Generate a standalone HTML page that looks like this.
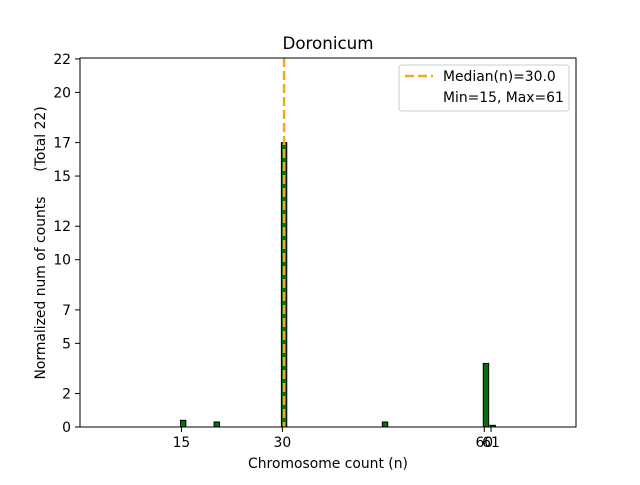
<!DOCTYPE html>
<html><head><meta charset="utf-8"><style>
body{margin:0;background:#fff;}
svg{font-family:"DejaVu Sans","Liberation Sans",sans-serif;}
</style></head><body>
<svg id="chart" width="640" height="480" viewBox="0 0 640 480">
<text x="328" y="49" font-size="16.7" text-anchor="middle">Doronicum</text>
<g id="bars"></g>
<g id="xticks"></g>
<g id="yticks"></g>
<line id="median" stroke="#f5a623" stroke-width="2.5" stroke-dasharray="9,4"/>
<rect x="80" y="58" width="496" height="369" fill="none" stroke="#000" stroke-width="1"/>
<text x="328" y="468" font-size="13.9" text-anchor="middle">Chromosome count (n)</text>
<text transform="translate(45,288) rotate(-90)" font-size="13.9" text-anchor="middle">Normalized num of counts</text>
<text transform="translate(45,139) rotate(-90)" font-size="13.9" text-anchor="middle">(Total 22)</text>
<g>
<rect x="399" y="65" width="170" height="46" rx="3" fill="#fff" stroke="#ccc"/>
<line x1="405" y1="76" x2="433" y2="76" stroke="#f5a623" stroke-width="2.5" stroke-dasharray="9,4"/>
<text x="443" y="81" font-size="13.9">Median(n)=30.0</text>
<text x="443" y="102" font-size="13.9">Min=15, Max=61</text>
</g>
</svg>
<script>
const counts = [15, 20, 30, 45, 60, 61];
const values = [0.4, 0.3, 17, 0.3, 3.8, 0.1];
const xTicks = [15, 30, 60, 61];
const yTicks = [0, 2, 5, 7, 10, 12, 15, 17, 20, 22];
const median = 30;
const NS = 'http://www.w3.org/2000/svg';
const X = v => 80.5 + v * 6.73;
const Y = v => 427 - v * 16.73;
const bars = document.getElementById('bars');
counts.forEach((c, i) => {
  const r = document.createElementNS(NS, 'rect');
  
  
  const x0 = X(c - 0.15), x1 = X(c + 0.65);
  r.setAttribute('x', x0); r.setAttribute('width', x1 - x0);
  r.setAttribute('y', Y(values[i])); r.setAttribute('height', Y(0) - Y(values[i]));
  r.setAttribute('fill', '#0a6e0a'); r.setAttribute('stroke', '#000'); r.setAttribute('stroke-width', '1');
  bars.appendChild(r);
});
const xt = document.getElementById('xticks');
xTicks.forEach(t => {
  const l = document.createElementNS(NS, 'line');
  
  
  l.setAttribute('x1', X(t)); l.setAttribute('x2', X(t)); l.setAttribute('y1', 427); l.setAttribute('y2', 432);
  l.setAttribute('stroke', '#000'); xt.appendChild(l);
  const tx = document.createElementNS(NS, 'text');
  
  
  tx.setAttribute('x', X(t)); tx.setAttribute('y', 447); tx.setAttribute('font-size', '13.9'); tx.setAttribute('text-anchor', 'middle');
  tx.textContent = t; xt.appendChild(tx);
});
const yt = document.getElementById('yticks');
yTicks.forEach(t => {
  const l = document.createElementNS(NS, 'line');
  
  
  l.setAttribute('x1', 75); l.setAttribute('x2', 80); l.setAttribute('y1', Y(t)); l.setAttribute('y2', Y(t));
  l.setAttribute('stroke', '#000'); yt.appendChild(l);
  const tx = document.createElementNS(NS, 'text');
  
  
  tx.setAttribute('x', 71); tx.setAttribute('y', Y(t) + 5); tx.setAttribute('font-size', '13.9'); tx.setAttribute('text-anchor', 'end');
  tx.textContent = t; yt.appendChild(tx);
});
const m = document.getElementById('median');
m.setAttribute('x1', X(median + 0.25)); m.setAttribute('x2', X(median + 0.25)); m.setAttribute('y1', 58); m.setAttribute('y2', 427);
</script>
</body></html>
